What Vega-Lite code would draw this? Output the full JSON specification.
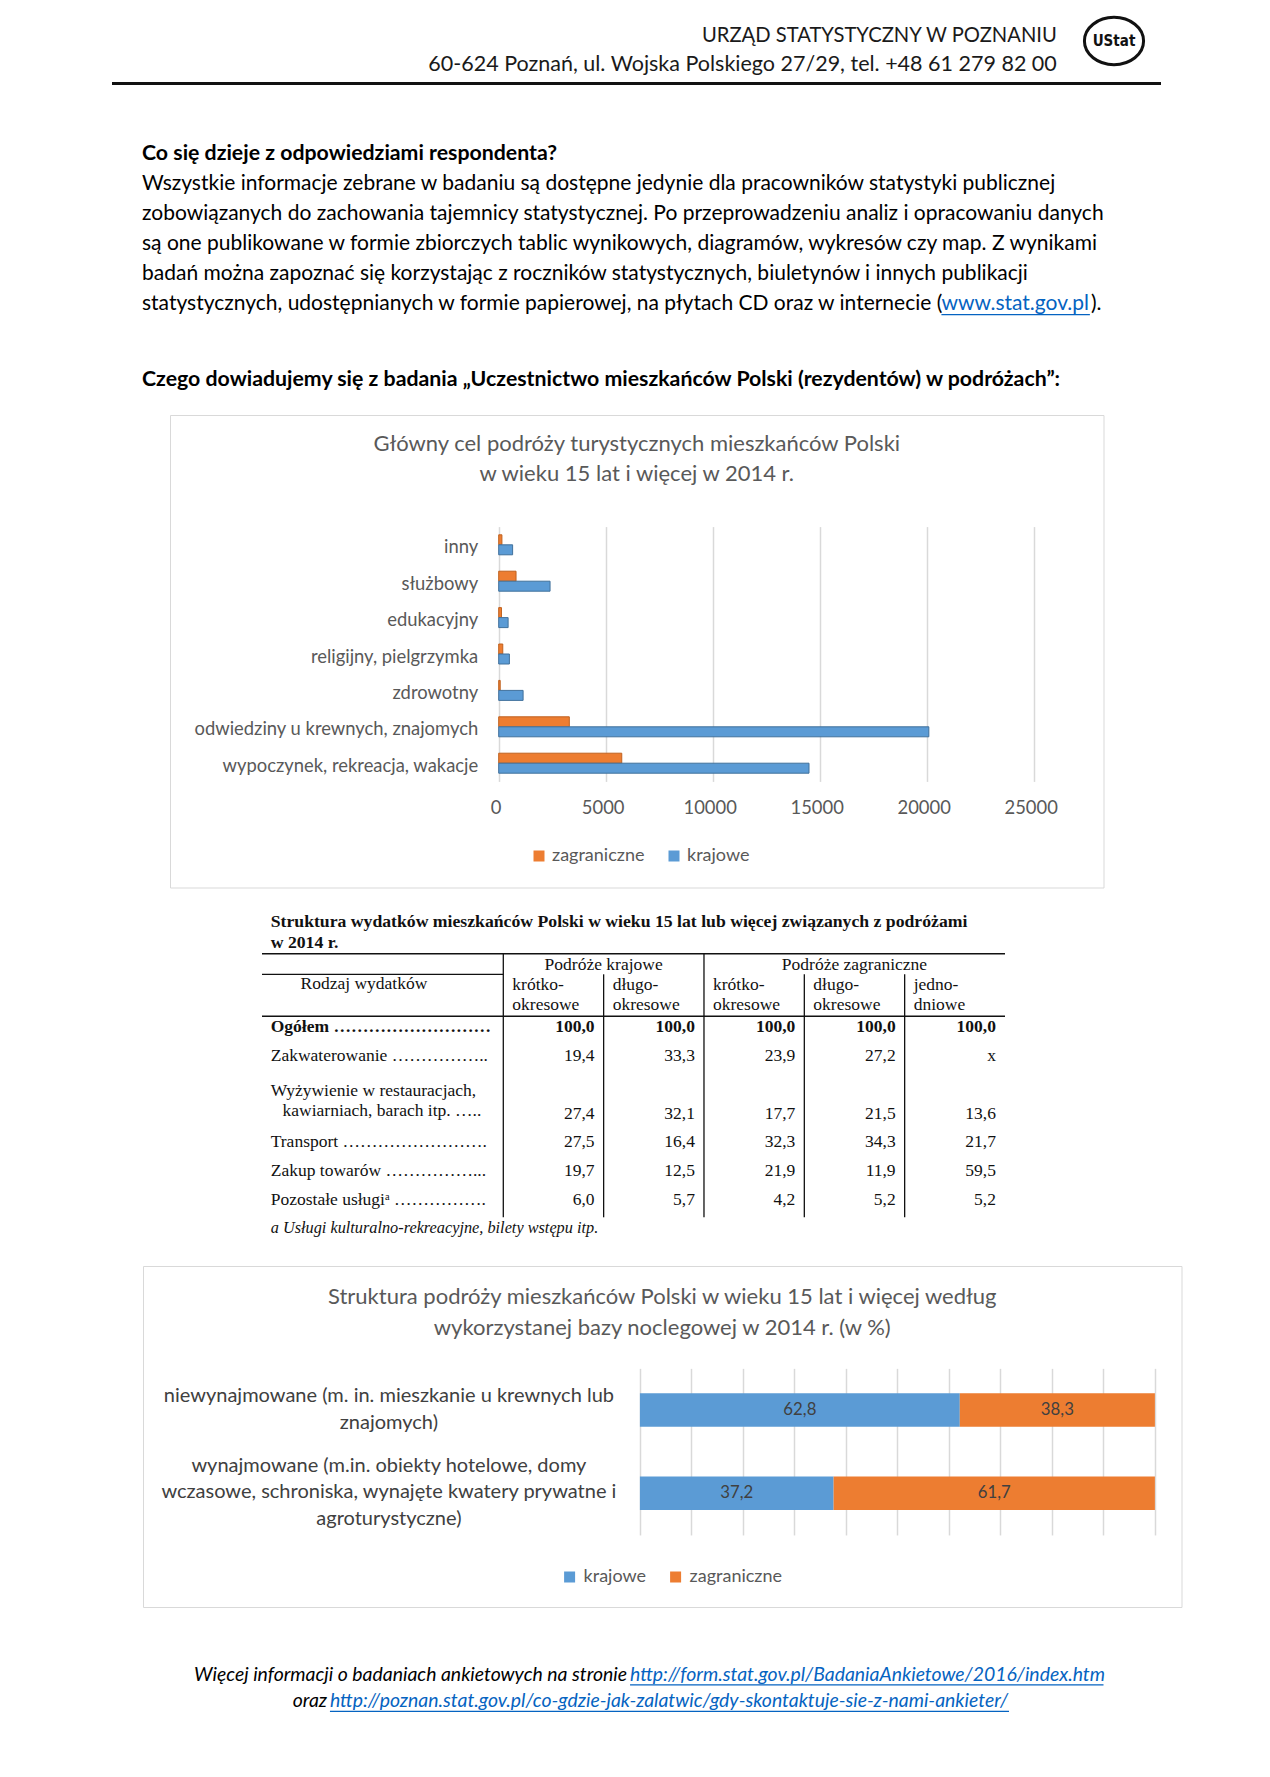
{
 "$schema": "https://vega.github.io/schema/vega-lite/v6.json",
 "padding": 0,
 "background": "white",
 "spacing": 0,
 "resolve": {"scale": {"color": "independent", "stroke": "independent", "x": "independent", "y": "independent"}, "legend": {"color": "independent"}},
 "config": {
  "view": {"stroke": null},
  "font": "Lato",
  "concat": {"spacing": 0},
  "locale": {"number": {"decimal": ",", "thousands": "\u00a0", "grouping": [3], "currency": ["", " zł"]}},
  "text": {"font": "Lato"}
 },
 "datasets": {
  "naglowek": [
   {"nr": 1, "tekst": "URZĄD STATYSTYCZNY W POZNANIU"},
   {"nr": 2, "tekst": "60-624 Poznań, ul. Wojska Polskiego 27/29, tel. +48 61 279 82 00"}
  ],
  "tekst": [
   {"nr": 0, "rodzaj": "naglowek", "tekst": "Co się dzieje z odpowiedziami respondenta?"},
   {"nr": 1, "rodzaj": "akapit", "tekst": "Wszystkie informacje zebrane w badaniu są dostępne jedynie dla pracowników statystyki publicznej"},
   {"nr": 2, "rodzaj": "akapit", "tekst": "zobowiązanych do zachowania tajemnicy statystycznej. Po przeprowadzeniu analiz i opracowaniu danych"},
   {"nr": 3, "rodzaj": "akapit", "tekst": "są one publikowane w formie zbiorczych tablic wynikowych, diagramów, wykresów czy map. Z wynikami"},
   {"nr": 4, "rodzaj": "akapit", "tekst": "badań można zapoznać się korzystając z roczników statystycznych, biuletynów i innych publikacji"},
   {"nr": 5, "rodzaj": "akapit", "tekst": "statystycznych, udostępnianych w formie papierowej, na płytach CD oraz w internecie ("},
   {"nr": 5, "rodzaj": "link", "tekst": "www.stat.gov.pl"},
   {"nr": 5, "rodzaj": "koniec", "tekst": ")."}
  ],
  "cele": [
   {"cel": "inny", "podroze": "zagraniczne", "liczba": 150},
   {"cel": "inny", "podroze": "krajowe", "liczba": 650},
   {"cel": "służbowy", "podroze": "zagraniczne", "liczba": 810},
   {"cel": "służbowy", "podroze": "krajowe", "liczba": 2400},
   {"cel": "edukacyjny", "podroze": "zagraniczne", "liczba": 130},
   {"cel": "edukacyjny", "podroze": "krajowe", "liczba": 440},
   {"cel": "religijny, pielgrzymka", "podroze": "zagraniczne", "liczba": 190},
   {"cel": "religijny, pielgrzymka", "podroze": "krajowe", "liczba": 500},
   {"cel": "zdrowotny", "podroze": "zagraniczne", "liczba": 70},
   {"cel": "zdrowotny", "podroze": "krajowe", "liczba": 1140},
   {"cel": "odwiedziny u krewnych, znajomych", "podroze": "zagraniczne", "liczba": 3300},
   {"cel": "odwiedziny u krewnych, znajomych", "podroze": "krajowe", "liczba": 20100},
   {"cel": "wypoczynek, rekreacja, wakacje", "podroze": "zagraniczne", "liczba": 5750},
   {"cel": "wypoczynek, rekreacja, wakacje", "podroze": "krajowe", "liczba": 14500}
  ],
  "wydatki": [
   {"rodzaj": "Ogółem", "kolumna": "kk", "udzial": 100.0},
   {"rodzaj": "Ogółem", "kolumna": "kd", "udzial": 100.0},
   {"rodzaj": "Ogółem", "kolumna": "zk", "udzial": 100.0},
   {"rodzaj": "Ogółem", "kolumna": "zd", "udzial": 100.0},
   {"rodzaj": "Ogółem", "kolumna": "zj", "udzial": 100.0},
   {"rodzaj": "Zakwaterowanie", "kolumna": "kk", "udzial": 19.4},
   {"rodzaj": "Zakwaterowanie", "kolumna": "kd", "udzial": 33.3},
   {"rodzaj": "Zakwaterowanie", "kolumna": "zk", "udzial": 23.9},
   {"rodzaj": "Zakwaterowanie", "kolumna": "zd", "udzial": 27.2},
   {"rodzaj": "Zakwaterowanie", "kolumna": "zj", "udzial": null},
   {"rodzaj": "Wyżywienie w restauracjach, kawiarniach, barach itp.", "kolumna": "kk", "udzial": 27.4},
   {"rodzaj": "Wyżywienie w restauracjach, kawiarniach, barach itp.", "kolumna": "kd", "udzial": 32.1},
   {"rodzaj": "Wyżywienie w restauracjach, kawiarniach, barach itp.", "kolumna": "zk", "udzial": 17.7},
   {"rodzaj": "Wyżywienie w restauracjach, kawiarniach, barach itp.", "kolumna": "zd", "udzial": 21.5},
   {"rodzaj": "Wyżywienie w restauracjach, kawiarniach, barach itp.", "kolumna": "zj", "udzial": 13.6},
   {"rodzaj": "Transport", "kolumna": "kk", "udzial": 27.5},
   {"rodzaj": "Transport", "kolumna": "kd", "udzial": 16.4},
   {"rodzaj": "Transport", "kolumna": "zk", "udzial": 32.3},
   {"rodzaj": "Transport", "kolumna": "zd", "udzial": 34.3},
   {"rodzaj": "Transport", "kolumna": "zj", "udzial": 21.7},
   {"rodzaj": "Zakup towarów", "kolumna": "kk", "udzial": 19.7},
   {"rodzaj": "Zakup towarów", "kolumna": "kd", "udzial": 12.5},
   {"rodzaj": "Zakup towarów", "kolumna": "zk", "udzial": 21.9},
   {"rodzaj": "Zakup towarów", "kolumna": "zd", "udzial": 11.9},
   {"rodzaj": "Zakup towarów", "kolumna": "zj", "udzial": 59.5},
   {"rodzaj": "Pozostałe usługi", "kolumna": "kk", "udzial": 6.0},
   {"rodzaj": "Pozostałe usługi", "kolumna": "kd", "udzial": 5.7},
   {"rodzaj": "Pozostałe usługi", "kolumna": "zk", "udzial": 4.2},
   {"rodzaj": "Pozostałe usługi", "kolumna": "zd", "udzial": 5.2},
   {"rodzaj": "Pozostałe usługi", "kolumna": "zj", "udzial": 5.2}
  ],
  "etykiety": [
   {"rodzaj": "Zakwaterowanie", "etykieta": "Zakwaterowanie …………….."},
   {"rodzaj": "Transport", "etykieta": "Transport ……………………."},
   {"rodzaj": "Zakup towarów", "etykieta": "Zakup towarów ……………..."},
   {"rodzaj": "Pozostałe usługi", "etykieta": "Pozostałe usługiᵃ ……………."}
  ],
  "kolumny": [
   {"kolumna": "kk", "naglowek": ["krótko-", "okresowe"]},
   {"kolumna": "kd", "naglowek": ["długo-", "okresowe"]},
   {"kolumna": "zk", "naglowek": ["krótko-", "okresowe"]},
   {"kolumna": "zd", "naglowek": ["długo-", "okresowe"]},
   {"kolumna": "zj", "naglowek": ["jedno-", "dniowe"]}
  ],
  "noclegi": [
   {"baza": "niewynajmowane (m. in. mieszkanie u krewnych lub znajomych)", "rodzaj": "krajowe", "udzial": 62.8},
   {"baza": "niewynajmowane (m. in. mieszkanie u krewnych lub znajomych)", "rodzaj": "zagraniczne", "udzial": 38.3},
   {"baza": "wynajmowane (m.in. obiekty hotelowe, domy wczasowe, schroniska, wynajęte kwatery prywatne i agroturystyczne)", "rodzaj": "krajowe", "udzial": 37.2},
   {"baza": "wynajmowane (m.in. obiekty hotelowe, domy wczasowe, schroniska, wynajęte kwatery prywatne i agroturystyczne)", "rodzaj": "zagraniczne", "udzial": 61.7}
  ],
  "stopka": [
   {"nr": 1, "rodzaj": "opis", "tekst": "Więcej informacji o badaniach ankietowych na stronie"},
   {"nr": 1, "rodzaj": "link", "tekst": "http://form.stat.gov.pl/BadaniaAnkietowe/2016/index.htm"},
   {"nr": 2, "rodzaj": "opis", "tekst": "oraz"},
   {"nr": 2, "rodzaj": "link", "tekst": "http://poznan.stat.gov.pl/co-gdzie-jak-zalatwic/gdy-skontaktuje-sie-z-nami-ankieter/"}
  ]
 },
 "vconcat": [
  {
   "spacing": 0,
   "hconcat": [
    {
     "width": 1060, "height": 82,
     "data": {"name": "naglowek"},
     "layer": [
      {
       "transform": [{"filter": "datum.nr == 1"}],
       "mark": {"type": "text", "align": "right", "baseline": "middle", "fontSize": 20.2, "color": "#1a1a1a"},
       "encoding": {
        "x": {"datum": 0.997, "type": "quantitative", "scale": {"domain": [0, 1], "nice": false, "zero": false}, "axis": null},
        "y": {"field": "nr", "type": "quantitative", "scale": {"domain": [1, 2], "range": [36.3, 65.3], "nice": false, "zero": false}, "axis": null},
        "text": {"field": "tekst"}
       }
      },
      {
       "transform": [{"filter": "datum.nr == 2"}],
       "mark": {"type": "text", "align": "right", "baseline": "middle", "fontSize": 21.5, "color": "#1a1a1a"},
       "encoding": {
        "x": {"datum": 0.997, "type": "quantitative", "scale": {"domain": [0, 1], "nice": false, "zero": false}, "axis": null},
        "y": {"field": "nr", "type": "quantitative", "scale": {"domain": [1, 2], "range": [36.3, 65.3], "nice": false, "zero": false}, "axis": null},
        "text": {"field": "tekst"}
       }
      }
     ]
    },
    {
     "width": 108, "height": 82,
     "data": {"values": [{"znak": "UStat"}]},
     "layer": [
      {"mark": {"type": "point", "shape": "M-1,0A1,0.8,0,1,0,1,0A1,0.8,0,1,0,-1,0Z", "size": 3500, "filled": false, "stroke": "#111111", "strokeWidth": 3, "opacity": 1}, "encoding": {}},
      {"mark": {"type": "text", "font": "DejaVu Sans Condensed", "fontWeight": "bold", "fontSize": 15, "color": "#111111", "baseline": "middle", "align": "center"}, "encoding": {"text": {"field": "znak"}}}
     ]
    }
   ]
  },
  {
   "spacing": 0,
   "hconcat": [
    {"width": 112, "height": 3, "data": {"values": []}, "mark": "point", "encoding": {}},
    {"width": 1049, "height": 3, "data": {"values": []}, "mark": "point", "encoding": {}, "view": {"fill": "#111111", "stroke": null}}
   ]
  },
  {
   "spacing": 0,
   "hconcat": [
    {"width": 141.6, "height": 260, "data": {"values": []}, "mark": "point", "encoding": {}},
    {
     "width": 1010, "height": 260,
     "data": {"name": "tekst"},
     "layer": [
      {
       "transform": [{"filter": "datum.rodzaj == 'naglowek'"}],
       "mark": {"type": "text", "align": "left", "baseline": "middle", "fontSize": 21.3, "fontWeight": "bold", "color": "#000000"},
       "encoding": {
        "x": {"datum": 0, "type": "quantitative", "scale": {"domain": [0, 1], "nice": false, "zero": false}, "axis": null},
        "y": {"field": "nr", "type": "quantitative", "scale": {"domain": [0, 5], "range": [68.8, 218.8], "nice": false, "zero": false}, "axis": null},
        "text": {"field": "tekst"}
       }
      },
      {
       "transform": [{"filter": "datum.rodzaj == 'akapit'"}],
       "mark": {"type": "text", "align": "left", "baseline": "middle", "fontSize": 21, "color": "#000000"},
       "encoding": {
        "x": {"datum": 0, "type": "quantitative", "scale": {"domain": [0, 1], "nice": false, "zero": false}, "axis": null},
        "y": {"field": "nr", "type": "quantitative", "scale": {"domain": [0, 5], "range": [68.8, 218.8], "nice": false, "zero": false}, "axis": null},
        "text": {"field": "tekst"}
       }
      },
      {
       "transform": [{"filter": "datum.rodzaj == 'link'"}],
       "mark": {"type": "text", "align": "left", "baseline": "middle", "fontSize": 21, "color": "#0563C1"},
       "encoding": {
        "x": {"datum": 0.7915, "type": "quantitative", "scale": {"domain": [0, 1], "nice": false, "zero": false}, "axis": null},
        "y": {"field": "nr", "type": "quantitative", "scale": {"domain": [0, 5], "range": [68.8, 218.8], "nice": false, "zero": false}, "axis": null},
        "text": {"field": "tekst"}
       }
      },
      {
       "transform": [{"filter": "datum.rodzaj == 'koniec'"}],
       "mark": {"type": "text", "align": "left", "baseline": "middle", "fontSize": 21, "color": "#000000"},
       "encoding": {
        "x": {"datum": 0.9395, "type": "quantitative", "scale": {"domain": [0, 1], "nice": false, "zero": false}, "axis": null},
        "y": {"field": "nr", "type": "quantitative", "scale": {"domain": [0, 5], "range": [68.8, 218.8], "nice": false, "zero": false}, "axis": null},
        "text": {"field": "tekst"}
       }
      },
      {
       "data": {"values": [{"podkreslenie": "www.stat.gov.pl"}]},
       "mark": {"type": "rule", "color": "#0563C1", "strokeWidth": 1.3},
       "encoding": {
        "x": {"datum": 0.7915, "type": "quantitative", "scale": {"domain": [0, 1], "nice": false, "zero": false}, "axis": null},
        "x2": {"datum": 0.9385},
        "y": {"datum": 5.36, "type": "quantitative", "scale": {"domain": [0, 5], "range": [68.8, 218.8], "nice": false, "zero": false}, "axis": null}
       }
      }
     ]
    }
   ]
  },
  {
   "spacing": 0,
   "hconcat": [
    {"width": 141.6, "height": 69, "data": {"values": []}, "mark": "point", "encoding": {}},
    {
     "width": 1010, "height": 69,
     "data": {"values": [{"tekst": "Czego dowiadujemy się z badania „Uczestnictwo mieszkańców Polski (rezydentów) w podróżach”:"}]},
     "mark": {"type": "text", "align": "left", "baseline": "middle", "fontSize": 21.3, "fontWeight": "bold", "color": "#000000"},
     "encoding": {
      "x": {"datum": 0, "type": "quantitative", "scale": {"domain": [0, 1], "nice": false, "zero": false}, "axis": null},
      "text": {"field": "tekst"}
     }
    }
   ]
  },
  {
   "spacing": 0,
   "resolve": {"scale": {"color": "independent"}},
   "hconcat": [
    {"width": 168.8, "height": 472.5, "data": {"values": []}, "mark": "point", "encoding": {}},
    {
     "width": 933.5, "height": 472.5,
     "view": {"stroke": "#d9d9d9"},
     "layer": [
      {
       "data": {"name": "cele"},
       "mark": {"type": "bar", "strokeWidth": 1},
       "encoding": {
        "y": {"field": "cel", "type": "nominal",
         "scale": {"domain": ["inny", "służbowy", "edukacyjny", "religijny, pielgrzymka", "zdrowotny", "odwiedziny u krewnych, znajomych", "wypoczynek, rekreacja, wakacje"], "range": [111.6, 366.4], "paddingInner": 0, "paddingOuter": 0},
         "axis": {"title": null, "offset": -328.7, "domain": false, "ticks": false, "labelPadding": 21, "labelFontSize": 18.4, "labelColor": "#595959", "labelOffset": 2.5, "labelLimit": 0}},
        "yOffset": {"field": "podroze", "type": "nominal", "scale": {"domain": ["zagraniczne", "krajowe"], "paddingInner": 0, "paddingOuter": 0.82}},
        "x": {"field": "liczba", "type": "quantitative",
         "scale": {"domain": [0, 25000], "range": [328.7, 863.7], "nice": false},
         "axis": {"title": null, "orient": "top", "values": [0, 5000, 10000, 15000, 20000, 25000], "format": "d", "offset": -400, "domain": false, "ticks": false, "tickSize": 0, "labelPadding": 8, "labelBaseline": "middle", "labelFlush": false, "labelFontSize": 18.4, "labelColor": "#595959", "labelOffset": -3, "grid": true, "gridColor": "#d9d9d9", "gridWidth": 1.5}},
        "color": {"field": "podroze", "type": "nominal",
         "scale": {"domain": ["zagraniczne", "krajowe"], "range": ["#ED7D31", "#5B9BD5"]},
         "legend": {"orient": "none", "legendX": 360, "legendY": 432, "direction": "horizontal", "title": null, "symbolType": "square", "symbolSize": 121, "symbolStrokeWidth": 0, "labelFontSize": 18, "labelColor": "#595959", "columnPadding": 20, "labelOffset": 4, "padding": 0}},
        "stroke": {"field": "podroze", "type": "nominal", "scale": {"domain": ["zagraniczne", "krajowe"], "range": ["#C0621F", "#41719C"]}, "legend": null}
       }
      },
      {
       "data": {"values": [{"tytul": ["Główny cel podróży turystycznych mieszkańców Polski", "w wieku 15 lat i więcej w 2014 r."]}]},
       "mark": {"type": "text", "align": "center", "baseline": "middle", "fontSize": 22, "lineHeight": 30, "color": "#595959"},
       "encoding": {
        "y": {"datum": "inny", "bandPosition": -2.2555,
         "scale": {"domain": ["inny", "służbowy", "edukacyjny", "religijny, pielgrzymka", "zdrowotny", "odwiedziny u krewnych, znajomych", "wypoczynek, rekreacja, wakacje"], "range": [111.6, 366.4], "paddingInner": 0, "paddingOuter": 0}},
        "text": {"field": "tytul"}
       }
      }
     ]
    }
   ]
  },
  {
   "spacing": 0,
   "hconcat": [
    {"width": 260.6, "height": 376.5, "data": {"values": []}, "mark": "point", "encoding": {}},
    {
     "width": 743, "height": 376.5,
     "layer": [
      {
       "data": {"values": [{"t": ["Struktura wydatków mieszkańców Polski w wieku 15 lat lub więcej związanych z podróżami", "w 2014 r."]}]},
       "mark": {"type": "text", "font": "Liberation Serif", "fontWeight": "bold", "fontSize": 17.7, "align": "left", "baseline": "middle", "lineHeight": 20.5, "color": "#111111"},
       "encoding": {
        "x": {"datum": "kk", "bandPosition": -2.318, "scale": {"domain": ["kk", "kd", "zk", "zd", "zj"], "range": [241.3, 743], "paddingInner": 0, "paddingOuter": 0}, "axis": null},
        "y": {"datum": "Ogółem", "bandPosition": -3.172, "scale": {"domain": ["Ogółem", "Zakwaterowanie", "_", "Wyżywienie w restauracjach, kawiarniach, barach itp.", "Transport", "Zakup towarów", "Pozostałe usługi", "przypis"], "range": [125.05, 354.65], "paddingInner": 0, "paddingOuter": 0}, "axis": null},
        "text": {"field": "t"}
       }
      },
      {
       "data": {"values": [{"linia": "góra"}]},
       "mark": {"type": "rule", "color": "#111111", "strokeWidth": 1.6},
       "encoding": {"y": {"datum": "Ogółem", "bandPosition": -2.064, "axis": null}}
      },
      {
       "data": {"values": [{"grupa": "Podróże krajowe"}]},
       "mark": {"type": "text", "font": "Liberation Serif", "fontSize": 17.5, "align": "center", "baseline": "middle", "color": "#111111"},
       "encoding": {
        "x": {"datum": "kk", "bandPosition": 1, "axis": null},
        "y": {"datum": "Ogółem", "bandPosition": -1.674, "axis": null},
        "text": {"field": "grupa"}
       }
      },
      {
       "data": {"values": [{"grupa": "Podróże zagraniczne"}]},
       "mark": {"type": "text", "font": "Liberation Serif", "fontSize": 17.5, "align": "center", "baseline": "middle", "color": "#111111"},
       "encoding": {
        "x": {"datum": "zd", "bandPosition": 0.5, "axis": null},
        "y": {"datum": "Ogółem", "bandPosition": -1.674, "axis": null},
        "text": {"field": "grupa"}
       }
      },
      {
       "data": {"values": [{"linia": "grupy"}]},
       "mark": {"type": "rule", "color": "#111111", "strokeWidth": 1.2},
       "encoding": {
        "x": {"datum": "kk", "bandPosition": 0, "axis": null},
        "x2": {"value": {"expr": "width"}},
        "y": {"datum": "Ogółem", "bandPosition": -1.35, "axis": null}
       }
      },
      {
       "data": {"values": [{"t": "Rodzaj wydatków"}]},
       "mark": {"type": "text", "font": "Liberation Serif", "fontSize": 17.5, "align": "center", "baseline": "middle", "color": "#111111"},
       "encoding": {
        "x": {"datum": "kk", "bandPosition": -1.389, "axis": null},
        "y": {"datum": "Ogółem", "bandPosition": -0.995, "axis": null},
        "text": {"field": "t"}
       }
      },
      {
       "data": {"name": "kolumny"},
       "mark": {"type": "text", "font": "Liberation Serif", "fontSize": 17.5, "align": "left", "baseline": "middle", "lineHeight": 19.3, "color": "#111111"},
       "encoding": {
        "x": {"field": "kolumna", "type": "nominal", "bandPosition": 0.09, "axis": null},
        "y": {"datum": "Ogółem", "bandPosition": -0.96, "axis": null},
        "text": {"field": "naglowek"}
       }
      },
      {
       "data": {"values": [{"linia": "naglowek"}]},
       "mark": {"type": "rule", "color": "#111111", "strokeWidth": 1.6},
       "encoding": {"y": {"datum": "Ogółem", "bandPosition": 0.11, "axis": null}}
      },
      {
       "data": {"values": [{"kolumna": "kk"}, {"kolumna": "zk"}]},
       "mark": {"type": "rule", "color": "#111111", "strokeWidth": 1.3, "y2Offset": -11},
       "encoding": {
        "x": {"field": "kolumna", "type": "nominal", "bandPosition": 0, "axis": null},
        "y": {"datum": "Ogółem", "bandPosition": -2.064, "axis": null},
        "y2": {"datum": "przypis"}
       }
      },
      {
       "data": {"values": [{"kolumna": "kd"}, {"kolumna": "zd"}, {"kolumna": "zj"}]},
       "mark": {"type": "rule", "color": "#111111", "strokeWidth": 1.3, "y2Offset": -11},
       "encoding": {
        "x": {"field": "kolumna", "type": "nominal", "bandPosition": 0, "axis": null},
        "y": {"datum": "Ogółem", "bandPosition": -1.35, "axis": null},
        "y2": {"datum": "przypis"}
       }
      },
      {
       "data": {"values": [{"t": "Ogółem ………………………"}]},
       "mark": {"type": "text", "font": "Liberation Serif", "fontWeight": "bold", "fontSize": 17.5, "align": "left", "baseline": "middle", "color": "#111111"},
       "encoding": {
        "x": {"datum": "kk", "bandPosition": -2.318, "axis": null},
        "y": {"datum": "Ogółem", "axis": null},
        "text": {"field": "t"}
       }
      },
      {
       "data": {"name": "etykiety"},
       "mark": {"type": "text", "font": "Liberation Serif", "fontSize": 17.5, "align": "left", "baseline": "middle", "color": "#111111"},
       "encoding": {
        "x": {"datum": "kk", "bandPosition": -2.318, "axis": null},
        "y": {"field": "rodzaj", "type": "nominal", "axis": null},
        "text": {"field": "etykieta"}
       }
      },
      {
       "data": {"values": [{"t": "Wyżywienie w restauracjach,"}]},
       "mark": {"type": "text", "font": "Liberation Serif", "fontSize": 17.5, "align": "left", "baseline": "middle", "color": "#111111"},
       "encoding": {
        "x": {"datum": "kk", "bandPosition": -2.318, "axis": null},
        "y": {"datum": "Wyżywienie w restauracjach, kawiarniach, barach itp.", "bandPosition": -0.28, "axis": null},
        "text": {"field": "t"}
       }
      },
      {
       "data": {"values": [{"t": "kawiarniach, barach itp. ….."}]},
       "mark": {"type": "text", "font": "Liberation Serif", "fontSize": 17.5, "align": "left", "baseline": "middle", "color": "#111111"},
       "encoding": {
        "x": {"datum": "kk", "bandPosition": -2.2, "axis": null},
        "y": {"datum": "Wyżywienie w restauracjach, kawiarniach, barach itp.", "bandPosition": 0.42, "axis": null},
        "text": {"field": "t"}
       }
      },
      {
       "data": {"name": "wydatki"},
       "transform": [{"filter": "datum.rodzaj != 'Ogółem' && isValid(datum.udzial)"}],
       "mark": {"type": "text", "font": "Liberation Serif", "fontSize": 17.5, "align": "right", "baseline": "middle", "color": "#111111"},
       "encoding": {
        "x": {"field": "kolumna", "type": "nominal", "bandPosition": 0.91, "axis": null},
        "y": {"field": "rodzaj", "type": "nominal", "axis": null},
        "text": {"field": "udzial", "type": "quantitative", "format": ".1f"}
       }
      },
      {
       "data": {"name": "wydatki"},
       "transform": [{"filter": "datum.rodzaj == 'Ogółem'"}],
       "mark": {"type": "text", "font": "Liberation Serif", "fontWeight": "bold", "fontSize": 17.5, "align": "right", "baseline": "middle", "color": "#111111"},
       "encoding": {
        "x": {"field": "kolumna", "type": "nominal", "bandPosition": 0.91, "axis": null},
        "y": {"field": "rodzaj", "type": "nominal", "axis": null},
        "text": {"field": "udzial", "type": "quantitative", "format": ".1f"}
       }
      },
      {
       "data": {"name": "wydatki"},
       "transform": [{"filter": "!isValid(datum.udzial)"}],
       "mark": {"type": "text", "font": "Liberation Serif", "fontSize": 17.5, "align": "right", "baseline": "middle", "color": "#111111", "text": "x"},
       "encoding": {
        "x": {"field": "kolumna", "type": "nominal", "bandPosition": 0.91, "axis": null},
        "y": {"field": "rodzaj", "type": "nominal", "axis": null}
       }
      },
      {
       "data": {"values": [{"t": "a  Usługi kulturalno-rekreacyjne, bilety wstępu itp."}]},
       "mark": {"type": "text", "font": "Liberation Serif", "fontStyle": "italic", "fontSize": 16.3, "align": "left", "baseline": "middle", "color": "#111111"},
       "encoding": {
        "x": {"datum": "kk", "bandPosition": -2.318, "axis": null},
        "y": {"datum": "przypis", "axis": null},
        "text": {"field": "t"}
       }
      }
     ]
    }
   ]
  },
  {
   "spacing": 0,
   "resolve": {"scale": {"color": "independent"}},
   "hconcat": [
    {"width": 141.6, "height": 341, "data": {"values": []}, "mark": "point", "encoding": {}},
    {
     "width": 1038.5, "height": 341,
     "view": {"stroke": "#d9d9d9"},
     "layer": [
      {
       "data": {"name": "noclegi"},
       "mark": {"type": "bar"},
       "encoding": {
        "y": {"field": "baza", "type": "nominal",
         "scale": {"domain": ["niewynajmowane (m. in. mieszkanie u krewnych lub znajomych)", "wynajmowane (m.in. obiekty hotelowe, domy wczasowe, schroniska, wynajęte kwatery prywatne i agroturystyczne)"], "range": [102.35, 268.95], "paddingInner": 0.599, "paddingOuter": 0.2995},
         "axis": {"title": null, "offset": -496.9, "domain": false, "ticks": false, "labelPadding": 251.5, "labelAlign": "center", "labelBaseline": "middle", "labelFontSize": 20, "labelColor": "#404040", "labelLimit": 0, "labelLineHeight": 26.6,
          "labelOffset": {"condition": {"test": "indexof(datum.value, 'niewynajmowane') == 0", "value": -14}, "value": -27.4},
          "labelExpr": "indexof(datum.value, 'niewynajmowane') == 0 ? ['niewynajmowane (m. in. mieszkanie u krewnych lub', 'znajomych)'] : ['wynajmowane (m.in. obiekty hotelowe, domy', 'wczasowe, schroniska, wynajęte kwatery prywatne i', 'agroturystyczne)']"}},
        "x": {"field": "udzial", "type": "quantitative", "stack": "normalize",
         "scale": {"domain": [0, 1], "range": [496.9, 1011.9], "nice": false},
         "axis": {"title": null, "orient": "top", "values": [0, 0.1, 0.2, 0.3, 0.4, 0.5, 0.6, 0.7, 0.8, 0.9, 1], "labels": false, "domain": false, "ticks": false, "grid": true, "gridColor": "#d9d9d9", "gridWidth": 1.5}},
        "order": {"field": "rodzaj", "type": "nominal", "sort": "ascending"},
        "color": {"field": "rodzaj", "type": "nominal",
         "scale": {"domain": ["krajowe", "zagraniczne"], "range": ["#5B9BD5", "#ED7D31"]},
         "legend": {"orient": "none", "legendX": 417.6, "legendY": 302, "direction": "horizontal", "title": null, "symbolType": "square", "symbolSize": 121, "symbolStrokeWidth": 0, "labelFontSize": 18, "labelColor": "#595959", "columnPadding": 20, "labelOffset": 5, "padding": 0}}
       }
      },
      {
       "data": {"name": "noclegi"},
       "mark": {"type": "text", "align": "center", "baseline": "middle", "fontSize": 16.8, "color": "#404040"},
       "encoding": {
        "y": {"field": "baza", "type": "nominal"},
        "x": {"field": "udzial", "type": "quantitative", "stack": "normalize", "bandPosition": 0.5},
        "order": {"field": "rodzaj", "type": "nominal", "sort": "ascending"},
        "detail": {"field": "rodzaj"},
        "text": {"field": "udzial", "type": "quantitative", "format": ".1f"}
       }
      },
      {
       "data": {"values": [{"tytul": ["Struktura podróży mieszkańców Polski w wieku 15 lat i więcej według", "wykorzystanej bazy noclegowej w 2014 r. (w %)"]}]},
       "mark": {"type": "text", "align": "center", "baseline": "middle", "fontSize": 22, "lineHeight": 30.6, "color": "#595959"},
       "encoding": {
        "y": {"datum": "niewynajmowane (m. in. mieszkanie u krewnych lub znajomych)", "bandPosition": -2.883},
        "text": {"field": "tytul"}
       }
      }
     ]
    }
   ]
  },
  {
   "width": 1270, "height": 170,
   "data": {"name": "stopka"},
   "layer": [
    {
     "transform": [{"filter": "datum.rodzaj == 'opis' && datum.nr == 1"}],
     "mark": {"type": "text", "align": "right", "baseline": "middle", "fontSize": 19.4, "fontStyle": "italic", "color": "#000000"},
     "encoding": {
      "x": {"datum": 0.4937, "type": "quantitative", "scale": {"domain": [0, 1], "nice": false, "zero": false}, "axis": null},
      "y": {"field": "nr", "type": "quantitative", "scale": {"domain": [1, 2], "range": [67.3, 93.4], "nice": false, "zero": false}, "axis": null},
      "text": {"field": "tekst"}
     }
    },
    {
     "transform": [{"filter": "datum.rodzaj == 'opis' && datum.nr == 2"}],
     "mark": {"type": "text", "align": "right", "baseline": "middle", "fontSize": 19.4, "fontStyle": "italic", "color": "#000000"},
     "encoding": {
      "x": {"datum": 0.2575, "type": "quantitative", "scale": {"domain": [0, 1], "nice": false, "zero": false}, "axis": null},
      "y": {"field": "nr", "type": "quantitative", "scale": {"domain": [1, 2], "range": [67.3, 93.4], "nice": false, "zero": false}, "axis": null},
      "text": {"field": "tekst"}
     }
    },
    {
     "transform": [{"filter": "datum.rodzaj == 'link' && datum.nr == 1"}],
     "mark": {"type": "text", "align": "left", "baseline": "middle", "fontSize": 19.4, "fontStyle": "italic", "color": "#0563C1"},
     "encoding": {
      "x": {"datum": 0.4961, "type": "quantitative", "scale": {"domain": [0, 1], "nice": false, "zero": false}, "axis": null},
      "y": {"field": "nr", "type": "quantitative", "scale": {"domain": [1, 2], "range": [67.3, 93.4], "nice": false, "zero": false}, "axis": null},
      "text": {"field": "tekst"}
     }
    },
    {
     "transform": [{"filter": "datum.rodzaj == 'link' && datum.nr == 2"}],
     "mark": {"type": "text", "align": "left", "baseline": "middle", "fontSize": 19.4, "fontStyle": "italic", "color": "#0563C1"},
     "encoding": {
      "x": {"datum": 0.2598, "type": "quantitative", "scale": {"domain": [0, 1], "nice": false, "zero": false}, "axis": null},
      "y": {"field": "nr", "type": "quantitative", "scale": {"domain": [1, 2], "range": [67.3, 93.4], "nice": false, "zero": false}, "axis": null},
      "text": {"field": "tekst"}
     }
    },
    {
     "data": {"values": [{"podkreslenie": 1}]},
     "mark": {"type": "rule", "color": "#0563C1", "strokeWidth": 1.3},
     "encoding": {
      "x": {"datum": 0.4961, "type": "quantitative", "scale": {"domain": [0, 1], "nice": false, "zero": false}, "axis": null},
      "x2": {"datum": 0.8689},
      "y": {"datum": 1.37, "type": "quantitative", "scale": {"domain": [1, 2], "range": [67.3, 93.4], "nice": false, "zero": false}, "axis": null}
     }
    },
    {
     "data": {"values": [{"podkreslenie": 2}]},
     "mark": {"type": "rule", "color": "#0563C1", "strokeWidth": 1.3},
     "encoding": {
      "x": {"datum": 0.2598, "type": "quantitative", "scale": {"domain": [0, 1], "nice": false, "zero": false}, "axis": null},
      "x2": {"datum": 0.7945},
      "y": {"datum": 2.38, "type": "quantitative", "scale": {"domain": [1, 2], "range": [67.3, 93.4], "nice": false, "zero": false}, "axis": null}
     }
    }
   ]
  }
 ]
}
